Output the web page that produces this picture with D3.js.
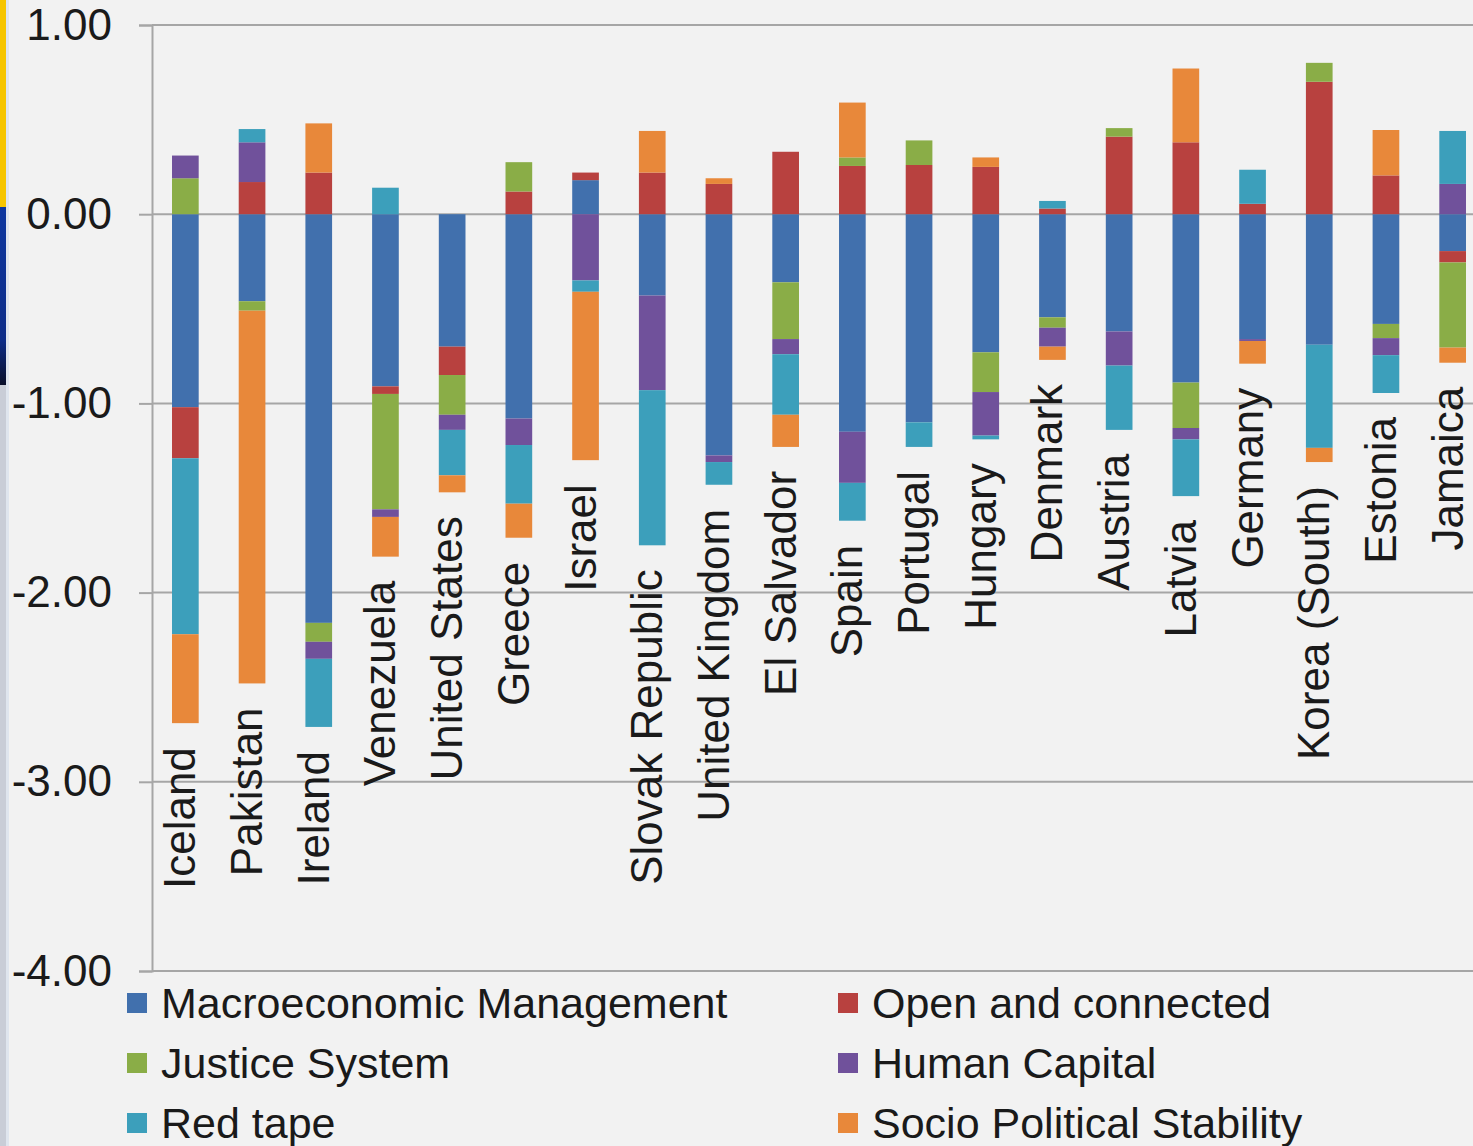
<!DOCTYPE html>
<html>
<head>
<meta charset="utf-8">
<script src="https://cdn.jsdelivr.net/npm/d3@7"></script>
<style>
  html, body { margin: 0; padding: 0; background: #f2f2f2; }
  svg { display: block; font-family: "Liberation Sans", Arial, sans-serif; }
</style>
</head>
<body>
<div id="container"></div>
<script>
const countries = ['Iceland', 'Pakistan', 'Ireland', 'Venezuela', 'United States', 'Greece',
  'Israel', 'Slovak Republic', 'United Kingdom', 'El Salvador', 'Spain', 'Portugal',
  'Hungary', 'Denmark', 'Austria', 'Latvia', 'Germany', 'Korea (South)', 'Estonia', 'Jamaica'];

const seriesNames = ['Macroeconomic Management', 'Open and connected', 'Justice System',
  'Human Capital', 'Red tape', 'Socio Political Stability'];

const macro   = [-1.02, -0.46, -2.16, -0.91, -0.70, -1.08, 0.18, -0.43, -1.275, -0.36, -1.15, -1.10, -0.73, -0.545, -0.62, -0.89, -0.66, -0.69, -0.58, -0.195];
const openCon = [-0.27, 0.17, 0.22, -0.04, -0.15, 0.12, 0.04, 0.22, 0.16, 0.33, 0.255, 0.26, 0.25, 0.03, 0.41, 0.38, 0.055, 0.70, 0.205, -0.06];
const justice = [0.19, -0.05, -0.10, -0.61, -0.21, 0.155, 0, 0, 0, -0.30, 0.045, 0.13, -0.21, -0.055, 0.045, -0.24, 0, 0.10, -0.075, -0.45];
const human   = [0.12, 0.21, -0.09, -0.04, -0.08, -0.14, -0.35, -0.50, -0.035, -0.08, -0.27, 0, -0.23, -0.10, -0.18, -0.06, -0.01, 0, -0.09, 0.16];
const redTape = [-0.93, 0.07, -0.36, 0.14, -0.24, -0.31, -0.06, -0.82, -0.12, -0.32, -0.20, -0.13, -0.02, 0.04, -0.34, -0.30, 0.18, -0.545, -0.20, 0.28];
const socio   = [-0.47, -1.97, 0.26, -0.21, -0.09, -0.18, -0.89, 0.22, 0.03, -0.17, 0.29, 0, 0.05, -0.07, 0, 0.39, -0.12, -0.075, 0.24, -0.08];

const yTicks = [1, 0, -1, -2, -3, -4];

const colors = ['#4170ad', '#b8413f', '#8aad47', '#70519b', '#3c9fbb', '#e8883a'];

const width = 1473;
const height = 1146;

// table for d3.stack
const table = countries.map((c, i) => ({
  country: c,
  [seriesNames[0]]: macro[i],
  [seriesNames[1]]: openCon[i],
  [seriesNames[2]]: justice[i],
  [seriesNames[3]]: human[i],
  [seriesNames[4]]: redTape[i],
  [seriesNames[5]]: socio[i]
}));

const stacked = d3.stack()
  .keys(seriesNames)
  .offset(d3.stackOffsetDiverging)(table);

const xScale = d3.scaleBand()
  .domain(countries)
  .range([152, 1486])
  .paddingInner(0.6)
  .paddingOuter(0.3);

const yScale = d3.scaleLinear()
  .domain([-4, 1])
  .range([971, 25]);

const svg = d3.select('#container')
  .append('svg')
  .attr('width', width)
  .attr('height', height);

svg.append('rect')
  .attr('width', width)
  .attr('height', height)
  .attr('fill', '#f2f2f2');

// slide edge strip on the left
svg.append('rect').attr('x', 0).attr('y', 0).attr('width', 9).attr('height', height).attr('fill', '#dfe5ee');
svg.append('rect').attr('x', 0).attr('y', 0).attr('width', 6).attr('height', 207).attr('fill', '#f6c500');
const grad = svg.append('defs').append('linearGradient')
  .attr('id', 'edge').attr('x1', 0).attr('y1', 0).attr('x2', 0).attr('y2', 1);
grad.append('stop').attr('offset', '0%').attr('stop-color', '#0c36a0');
grad.append('stop').attr('offset', '75%').attr('stop-color', '#0c2c88');
grad.append('stop').attr('offset', '100%').attr('stop-color', '#0a0f2a');
svg.append('rect').attr('x', 0).attr('y', 207).attr('width', 6).attr('height', 178).attr('fill', 'url(#edge)');
svg.append('rect').attr('x', 0).attr('y', 385).attr('width', 6).attr('height', height - 385).attr('fill', '#c9cdd7');

// gridlines
svg.append('g')
  .selectAll('line')
  .data(yTicks)
  .enter()
  .append('line')
  .attr('x1', 152)
  .attr('x2', width)
  .attr('y1', d => yScale(d))
  .attr('y2', d => yScale(d))
  .attr('stroke', '#a6a6a6')
  .attr('stroke-width', 2);

// y axis
const yAxis = d3.axisLeft(yScale)
  .tickValues(yTicks)
  .tickSize(13)
  .tickPadding(27)
  .tickFormat(d => d.toFixed(2));

const yG = svg.append('g')
  .attr('transform', 'translate(152,0)')
  .call(yAxis);
yG.select('.domain').attr('stroke', '#a6a6a6').attr('stroke-width', 2);
yG.selectAll('.tick line').attr('stroke', '#a6a6a6').attr('stroke-width', 2);
yG.selectAll('.tick text')
  .attr('font-family', '"Liberation Sans", Arial, sans-serif')
  .attr('font-size', 44)
  .attr('fill', '#1a1a1a');

// bars
svg.append('g')
  .selectAll('g')
  .data(stacked)
  .enter()
  .append('g')
  .attr('fill', (d, i) => colors[i])
  .selectAll('rect')
  .data(d => d)
  .enter()
  .append('rect')
  .attr('x', d => xScale(d.data.country))
  .attr('width', xScale.bandwidth())
  .attr('y', d => yScale(Math.max(d[0], d[1])))
  .attr('height', d => Math.abs(yScale(d[0]) - yScale(d[1])));

// country labels under each bar
const lowest = countries.map((c, i) => d3.min(stacked, s => Math.min(s[i][0], s[i][1])));

svg.append('g')
  .selectAll('text')
  .data(countries)
  .enter()
  .append('text')
  .attr('transform', (d, i) =>
    `translate(${xScale(d) + xScale.bandwidth() / 2 + 10},${yScale(lowest[i]) + 24}) rotate(-90)`)
  .attr('text-anchor', 'end')
  .attr('font-size', 44)
  .attr('fill', '#1a1a1a')
  .text(d => d);

// legend
const legend = svg.append('g')
  .selectAll('g')
  .data(seriesNames)
  .enter()
  .append('g')
  .attr('transform', (d, i) => `translate(${i % 2 ? 838 : 127},${1003 + Math.floor(i / 2) * 60})`);

legend.append('rect')
  .attr('x', 0)
  .attr('y', -10)
  .attr('width', 20)
  .attr('height', 20)
  .attr('fill', (d, i) => colors[i]);

legend.append('text')
  .attr('x', 34)
  .attr('y', 15)
  .attr('font-size', 43)
  .attr('fill', '#1a1a1a')
  .text(d => d);
</script>
</body>
</html>
